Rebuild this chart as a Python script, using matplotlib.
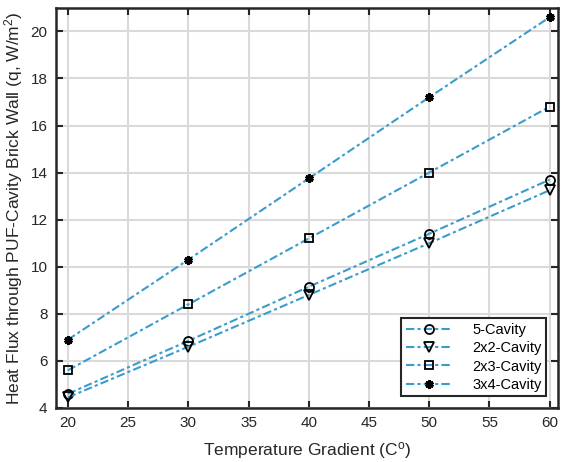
import matplotlib
matplotlib.use('Agg')
import matplotlib.pyplot as plt

plt.rcParams['font.family'] = ['Liberation Sans', 'DejaVu Sans']
plt.rcParams['mathtext.fontset'] = 'custom'
plt.rcParams['mathtext.rm'] = 'Liberation Sans'
plt.rcParams['mathtext.it'] = 'Liberation Sans'

# 数据
temp = [20, 30, 40, 50, 60]
q_5cav = [4.6, 6.85, 9.15, 11.4, 13.7]
q_2x2 = [4.45, 6.6, 8.8, 11.0, 13.25]
q_2x3 = [5.6, 8.4, 11.2, 14.0, 16.8]
q_3x4 = [6.9, 10.3, 13.75, 17.2, 20.6]
labels = ['5-Cavity', '2x2-Cavity', '2x3-Cavity', '3x4-Cavity']

line_color = '#3a9ccd'
text_color = '#262626'

fig = plt.figure(figsize=(5.7, 4.62), dpi=100)
ax = fig.add_axes([0.098, 0.117, 0.881, 0.866])

dash = (0, (4, 1.5, 1.5, 1.5))
ax.plot(temp, q_5cav, linestyle=dash, color=line_color, lw=1.5, marker='o',
        ms=6.5, mfc='none', mec='black', mew=1.3, label=labels[0])
ax.plot(temp, q_2x2, linestyle=dash, color=line_color, lw=1.5, marker='v',
        ms=7, mfc='none', mec='black', mew=1.3, label=labels[1])
ax.plot(temp, q_2x3, linestyle=dash, color=line_color, lw=1.5, marker='s',
        ms=5.5, mfc='none', mec='black', mew=1.3, label=labels[2])
ax.plot(temp, q_3x4, linestyle=dash, color=line_color, lw=1.5, marker=(6, 2, 0),
        ms=6, mfc='black', mec='black', mew=2.2, label=labels[3])

ax.set_xlim(19, 60.7)
ax.set_ylim(4, 21)
ax.set_xticks(range(20, 61, 5))
ax.set_yticks(range(4, 21, 2))
ax.grid(True, color='#dadada', lw=1.5)
ax.set_axisbelow(True)
ax.tick_params(direction='in', top=True, right=True, length=5, width=1.5,
               labelsize=11, colors=text_color, pad=6)
for s in ax.spines.values():
    s.set_linewidth(1.8)
    s.set_color(text_color)

ax.set_xlabel('Temperature Gradient (C$^{\\rm o}$)', fontsize=12.5,
              color=text_color, labelpad=7)
ax.set_ylabel('Heat Flux through PUF-Cavity Brick Wall (q, W/m$^2$)',
              fontsize=12.5, color=text_color, labelpad=4)

leg = ax.legend(loc='lower right', fontsize=10.5, fancybox=False, framealpha=1,
                edgecolor=text_color, borderpad=0.3, labelspacing=0.3,
                handlelength=3.2, handletextpad=1.4, borderaxespad=0.8)
leg.get_frame().set_linewidth(1.5)

plt.savefig('out.png', dpi=100)
plt.close()
